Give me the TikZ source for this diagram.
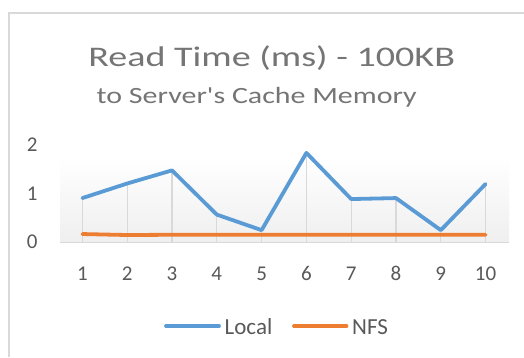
\documentclass[tikz,border=0pt]{standalone}
\usepackage{fontspec}
\setmainfont{Carlito}
\newfontfamily\calfont{Carlito}
\definecolor{txt}{HTML}{595959}
\definecolor{ttl}{HTML}{757575}
\definecolor{bord}{HTML}{D9D9D9}
\definecolor{localc}{HTML}{5B9BD5}
\definecolor{nfsc}{HTML}{ED7D31}
\definecolor{grad}{HTML}{EFEFEF}
\begin{document}
\begin{tikzpicture}[x=1pt,y=-1pt,
  ticklab/.style={anchor=base,text=txt,font=\calfont\fontsize{21}{21}\selectfont,inner sep=0pt},
  leglab/.style={anchor=base west,text=txt,font=\calfont\fontsize{23}{23}\selectfont,inner sep=0pt},
  series/.style={line width=3.8pt,line cap=round,line join=round},
  dropline/.style={draw=bord,line width=1.2pt}]
\useasboundingbox (0,0) rectangle (524,357);
\fill[white] (0,0) rectangle (524,357);
% chart border
\draw[bord,line width=2pt] (8.5,357) -- (8.5,13) -- (524,13);
% title
\node[anchor=base,text=ttl,font=\calfont\fontsize{28.4}{28.4}\selectfont,inner sep=0pt] (title) at (271.7,66.7) {\scalebox{1.34}[1]{Read Time (ms) - 100KB}};
\node[anchor=base,text=ttl,font=\calfont\fontsize{23.3}{23.3}\selectfont,inner sep=0pt] (subtitle) at (256.7,103.3) {\scalebox{1.285}[1]{to Server's Cache Memory}};
% plot area gradient
\shade[top color=white,bottom color=grad] (60,157) rectangle (509,242);
% y labels
\node[ticklab] (y2) at (32.3,151.7) {2};
\node[ticklab] (y1) at (32.3,200.7) {1};
\node[ticklab] (y0) at (32.3,248.9) {0};
% data
\foreach \i/\v in {1/0.91,2/1.21,3/1.48,4/0.57,5/0.25,6/1.84,7/0.89,8/0.91,9/0.25,10/1.20}{
  \coordinate (p\i) at ({60+44.8*(\i-0.5)},{242.3-48.6*\v});
  \coordinate (b\i) at ({60+44.8*(\i-0.5)},242.3);
  \draw[dropline] (p\i) -- (b\i);
  \node[ticklab] (x\i) at ({60+44.8*(\i-0.5)},280.7) {\i};
}
\foreach \i/\v in {1/0.17,2/0.15,3/0.155,4/0.155,5/0.155,6/0.155,7/0.155,8/0.155,9/0.155,10/0.155}{
  \coordinate (n\i) at ({60+44.8*(\i-0.5)},{242.3-48.6*\v});
}
% axis
\draw[bord,line width=1.5pt] (60,242.3) -- (509,242.3);
% series
\draw[series,nfsc] (n1) -- (n2) -- (n3) -- (n4) -- (n5) -- (n6) -- (n7) -- (n8) -- (n9) -- (n10);
\draw[series,localc] (p1) -- (p2) -- (p3) -- (p4) -- (p5) -- (p6) -- (p7) -- (p8) -- (p9) -- (p10);
% legend
\coordinate (l1a) at (166,326);
\coordinate (l1b) at (219,326);
\draw[series,localc] (l1a) -- (l1b);
\node[leglab] (loc) at (224.5,334) {Local};
\coordinate (l2a) at (294,326);
\coordinate (l2b) at (346.5,326);
\draw[series,nfsc] (l2a) -- (l2b);
\node[leglab] (nfs) at (352,334) {NFS};
\end{tikzpicture}
\end{document}
